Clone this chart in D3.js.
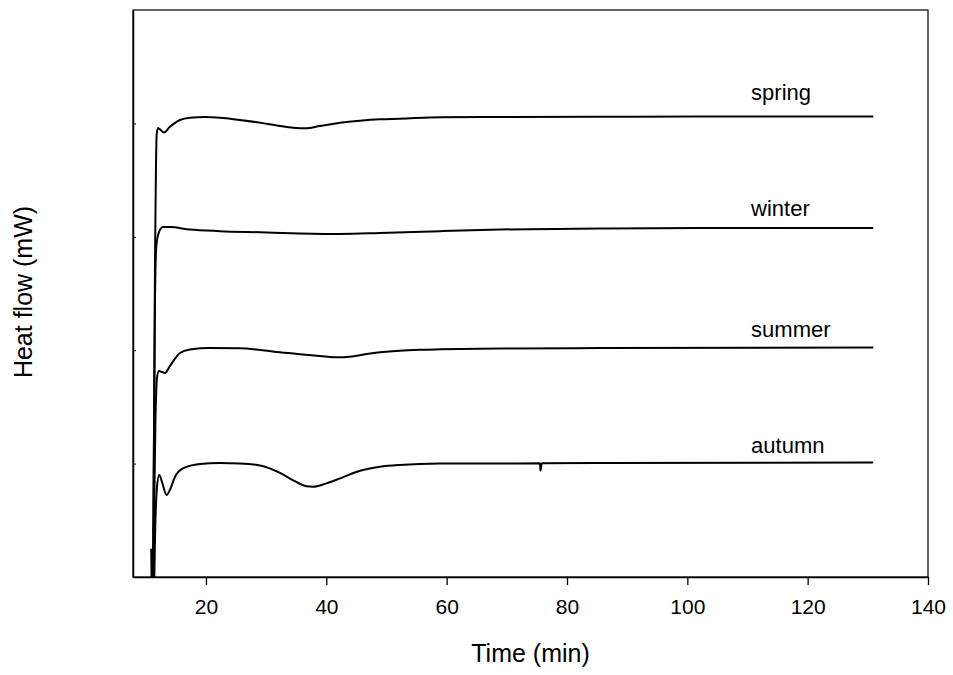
<!DOCTYPE html>
<html lang="en">
<head>
<meta charset="utf-8">
<title>Heat flow</title>
<script src="https://d3js.org/d3.v7.min.js"></script>
<style>
body { margin: 0; background: #fff; }
svg text { font-family: "Liberation Sans", Arial, sans-serif; fill: #000; }
.curve { fill: none; stroke: #000; stroke-width: 2; }
</style>
</head>
<body>
<script>
// values: time (min), heat flow (arbitrary offset units)
var springT = [11.0, 11.19, 11.52, 11.8, 12.02, 12.51, 13.0, 14.01, 15.67, 17.33, 19.8, 22.3, 25.6, 29.0, 32.3, 34.5, 36.7, 38.9, 42.3, 45.6, 48.9, 52.2, 58.9, 68.9, 85.5, 102.1, 130.9];
var springV = [-0.5, -0.1, 2.71, 3.9, 3.96, 3.94, 3.92, 3.97, 4.03, 4.05, 4.056, 4.05, 4.03, 4.006, 3.977, 3.962, 3.957, 3.977, 4.006, 4.024, 4.036, 4.041, 4.054, 4.056, 4.058, 4.06, 4.06];

var winterT = [11.0, 11.19, 11.52, 11.77, 12.18, 12.85, 14.0, 17.33, 22.3, 29.0, 35.6, 42.3, 48.9, 58.9, 68.9, 85.5, 102.1, 130.9];
var winterV = [-0.5, -0.1, 2.44, 2.93, 3.04, 3.086, 3.086, 3.064, 3.05, 3.04, 3.03, 3.025, 3.033, 3.05, 3.064, 3.073, 3.078, 3.078];

var summerT = [11.0, 11.2, 11.6, 11.85, 12.18, 12.68, 13.18, 14.0, 15.67, 17.33, 20.65, 25.6, 29.0, 32.3, 35.6, 38.9, 42.3, 43.9, 46.7, 48.9, 52.2, 55.6, 58.9, 68.9, 85.5, 130.9];
var summerV = [-0.5, -0.1, 1.38, 1.755, 1.817, 1.808, 1.799, 1.86, 1.975, 2.006, 2.019, 2.017, 2.002, 1.981, 1.964, 1.949, 1.937, 1.943, 1.966, 1.981, 1.996, 2.004, 2.008, 2.015, 2.019, 2.024];

var autumnT = [10.9, 11.05, 11.25, 11.6, 11.85, 12.23, 12.68, 13.46, 14.0, 14.84, 16.17, 19.0, 22.3, 25.6, 29.0, 32.3, 34.5, 36.7, 37.8, 40.0, 42.3, 45.6, 48.9, 52.2, 58.9, 68.9, 75.5, 75.6, 75.8, 85.5, 130.9];
var autumnV = [0.25, -0.3, -0.3, 0.5, 0.79, 0.9, 0.84, 0.723, 0.767, 0.882, 0.957, 0.996, 1.005, 1.001, 0.983, 0.918, 0.853, 0.80, 0.796, 0.826, 0.870, 0.937, 0.972, 0.988, 1.0, 1.001, 1.003, 0.94, 1.003, 1.005, 1.01];

var seriesNames = ["spring", "winter", "summer", "autumn"];
var labelT = [110.6, 110.6, 110.6, 110.6];
var labelV = [4.21, 3.18, 2.12, 1.09];

var xTicks = [20, 40, 60, 80, 100, 120, 140];
var yTicks = [1, 2, 3, 4];

var W = 953, H = 675;
var margin = {left: 133, right: 928, top: 10, bottom: 577};

var svg = d3.select("body").append("svg")
    .attr("width", W)
    .attr("height", H);

var x = d3.scaleLinear().domain([7.87, 140]).range([margin.left, margin.right]);
var y = d3.scaleLinear().domain([0, 5]).range([margin.bottom, margin.top]);

svg.append("clipPath").attr("id", "plot")
  .append("rect")
    .attr("x", margin.left).attr("y", margin.top)
    .attr("width", margin.right - margin.left)
    .attr("height", margin.bottom - margin.top);

var series = [
    d3.zip(springT, springV),
    d3.zip(winterT, winterV),
    d3.zip(summerT, summerV),
    d3.zip(autumnT, autumnV)
];

var line = d3.line()
    .x(function(d) { return x(d[0]); })
    .y(function(d) { return y(d[1]); })
    .curve(d3.curveMonotoneX);

svg.append("g")
    .attr("clip-path", "url(#plot)")
  .selectAll("path")
  .data(series)
  .enter().append("path")
    .attr("class", "curve")
    .attr("d", line);

// frame
svg.append("rect")
    .attr("x", margin.left).attr("y", margin.top)
    .attr("width", margin.right - margin.left)
    .attr("height", margin.bottom - margin.top)
    .attr("fill", "none")
    .attr("stroke", "#000")
    .attr("stroke-width", 1.2);

var xAxis = d3.axisBottom(x)
    .tickValues(xTicks)
    .tickSize(8)
    .tickPadding(14)
    .tickSizeOuter(0);

var gx = svg.append("g")
    .attr("transform", "translate(0," + margin.bottom + ")")
    .call(xAxis);
gx.select(".domain").attr("stroke-width", 1.5);
gx.selectAll(".tick line").attr("stroke-width", 1.3);
gx.selectAll("text")
    .style("font-size", "21px")
    .style("font-family", "Liberation Sans, Arial, sans-serif");

var yAxis = d3.axisRight(y)
    .tickValues(yTicks)
    .tickSize(3)
    .tickFormat("")
    .tickSizeOuter(0);

var gy = svg.append("g")
    .attr("transform", "translate(" + margin.left + ",0)")
    .call(yAxis);
gy.select(".domain").attr("stroke-width", 1.5);

svg.selectAll(".label")
    .data(seriesNames)
  .enter().append("text")
    .attr("class", "label")
    .attr("x", function(d, i) { return x(labelT[i]); })
    .attr("y", function(d, i) { return y(labelV[i]); })
    .style("font-size", "22px")
    .text(function(d) { return d; });

svg.append("text")
    .attr("x", (margin.left + margin.right) / 2)
    .attr("y", 662)
    .attr("text-anchor", "middle")
    .style("font-size", "25px")
    .text("Time (min)");

svg.append("text")
    .attr("transform", "translate(32," + 292 + ")rotate(-90)")
    .attr("text-anchor", "middle")
    .style("font-size", "25px")
    .text("Heat flow (mW)");
</script>
</body>
</html>
